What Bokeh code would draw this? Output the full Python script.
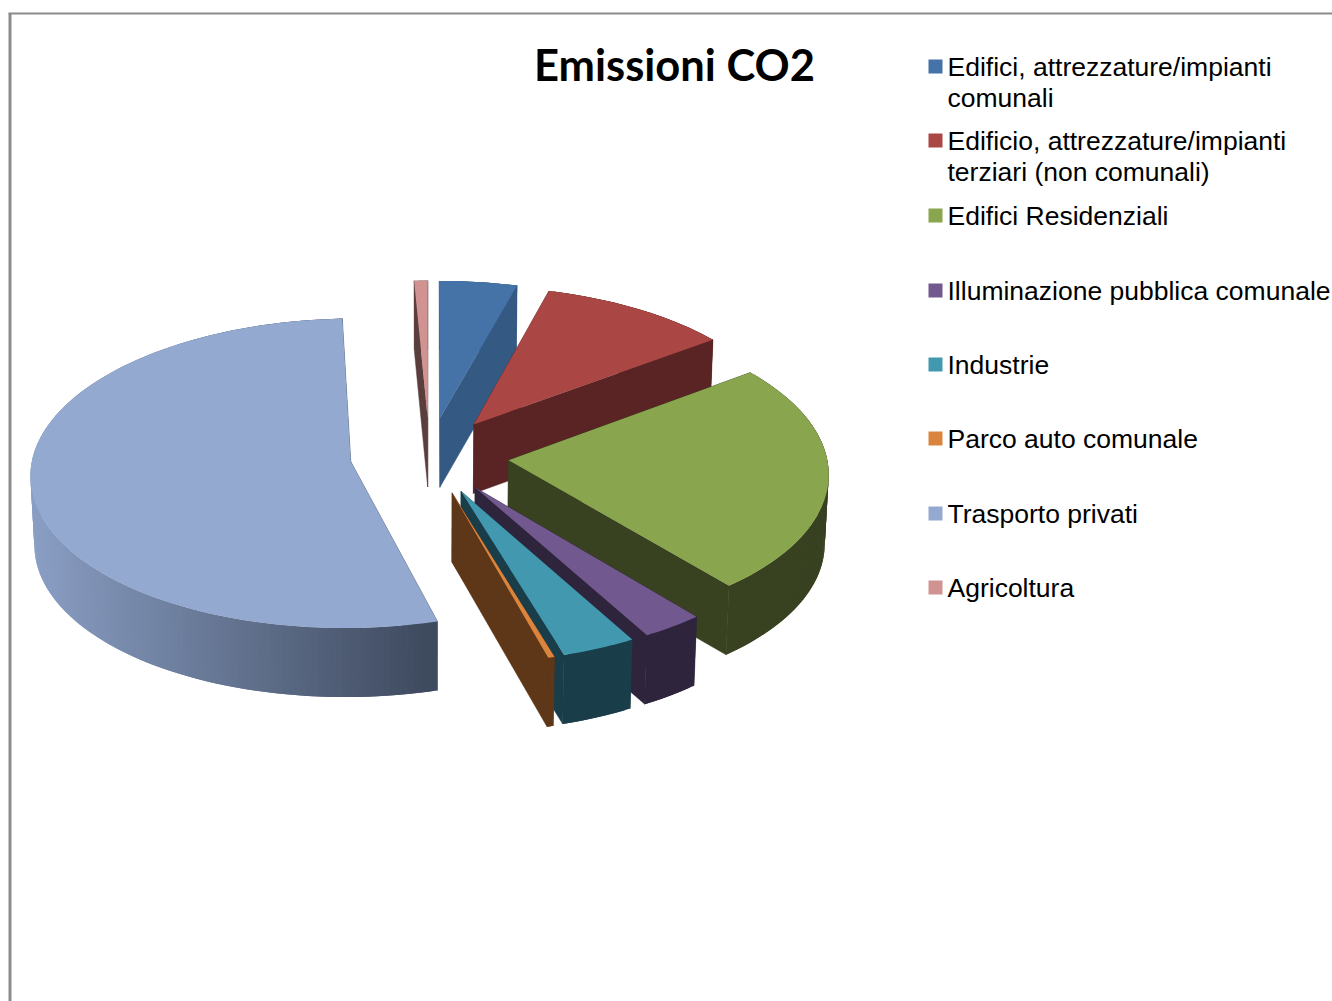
import math
from bokeh.core.properties import value
from bokeh.embed import file_html
from bokeh.plotting import figure
from bokeh.resources import INLINE

TITLE = "Emissioni CO2"
categories = [
    ["Edifici, attrezzature/impianti", "comunali"],
    ["Edificio, attrezzature/impianti", "terziari  (non comunali)"],
    ["Edifici Residenziali"],
    ["Illuminazione pubblica comunale"],
    ["Industrie"],
    ["Parco auto comunale"],
    ["Trasporto privati"],
    ["Agricoltura"],
]
shares = [4.3, 10.55, 24.15, 2.9, 3.45, 0.3, 53.6, 0.75]
top_colors = ["#4572A7", "#AA4643", "#89A54E", "#71588F", "#4198AF", "#DB843D", "#93A9CF", "#D19392"]
wall_colors = ["#345A83", "#5A2425", "#384120", "#2E243B", "#1A3D4A", "#5D3718", "#8496B8", "#5A3D3D"]

W, H = 1332, 1001
CX, CY, RX, RY = 429, 455, 318, 153
PERSP, EXPLODE, DEPTH, BOTTOM_SCALE = 0.075, 0.25, 69, 0.99


def project(px, py, lower=False):
    f = 1 / (1 - PERSP * py)
    x = RX * px * f
    y = CY + RY * py * f
    if lower:
        return CX + x * BOTTOM_SCALE, y + DEPTH
    return CX + x, y


def rim(mid, a, r=1.0):
    return EXPLODE * math.sin(mid) + r * math.sin(a), -EXPLODE * math.cos(mid) - r * math.cos(a)


def mix(c1, c2, t):
    return "#%02x%02x%02x" % tuple(round(a + (b - a) * t) for a, b in zip(c1, c2))


p = figure(width=W, height=H, x_range=(0, W), y_range=(H, 0), output_backend="svg",
           toolbar_location=None, min_border=0, outline_line_color=None,
           background_fill_color="white", border_fill_color="white")
p.axis.visible = False
p.grid.visible = False

# Frame of the chart area
p.quad(left=[8, 8], right=[11, W], top=[13, 12], bottom=[H, 14], fill_color="#8C8C8C", line_color=None)

# Angular extents of the slices, clockwise from twelve o'clock
spans, start = [], 0.0
for s in shares:
    end = start + s / sum(shares) * 2 * math.pi
    spans.append((start, end))
    start = end

# Back-to-front painting sequence
for i in [7, 0, 1, 2, 3, 4, 5, 6]:
    a0, a1 = spans[i]
    mid = (a0 + a1) / 2
    n = max(3, int((a1 - a0) / math.radians(1.0)))
    angles = [a0 + (a1 - a0) * j / n for j in range(n + 1)]
    apex_t = project(*rim(mid, 0, 0))
    apex_b = project(*rim(mid, 0, 0), lower=True)
    upper = [project(*rim(mid, a)) for a in angles]
    lower = [project(*rim(mid, a), lower=True) for a in angles]

    # Cut faces
    for u, l in ((upper[0], lower[0]), (upper[-1], lower[-1])):
        c = wall_colors[i] if i != 6 else "#3E4A5E"
        p.patch([apex_t[0], u[0], l[0], apex_b[0]], [apex_t[1], u[1], l[1], apex_b[1]],
                fill_color=c, line_color=c, line_width=0.5)

    # Outer wall as overlapping strips, shaded along the large slice
    xs, ys, cols = [], [], []
    for j in range(n):
        k = min(j + 2, n)
        xs.append([upper[j][0], upper[k][0], lower[k][0], lower[j][0]])
        ys.append([upper[j][1], upper[k][1], lower[k][1], lower[j][1]])
        if i == 6:
            t = min(1, max(0, (upper[j][0] - 35) / (437 - 35)))
            cols.append(mix((0x8A, 0x9E, 0xC4), (0x3E, 0x4A, 0x5E), t))
        else:
            cols.append(wall_colors[i])
    # Painted from the far end so that the overlaps stay out of sight
    p.patches(xs[::-1], ys[::-1], fill_color=cols[::-1], line_color=None)

    # Top face
    px = [apex_t[0]] + [u[0] for u in upper]
    py = [apex_t[1]] + [u[1] for u in upper]
    p.patch(px, py, fill_color=top_colors[i], line_color=None)

# Title
p.text([674], [63], text=[TITLE], text_font=value("Lato"), text_font_style="bold",
       text_font_size="43.5px", text_align="center", text_baseline="middle", text_color="black")

# Legend
row_y = [66, 140, 215, 290, 364, 438, 513, 587]
for y, lines, col in zip(row_y, categories, top_colors):
    p.quad(left=[928], right=[942], top=[y - 7], bottom=[y + 7], fill_color=col, line_color=None)
    for k, line in enumerate(lines):
        p.text([947], [y + 31 * k], text=[line], text_font=value("Liberation Sans"),
               text_font_size="26.5px", text_align="left", text_baseline="middle", text_color="black")

open("out.html", "w").write(file_html(p, INLINE))
